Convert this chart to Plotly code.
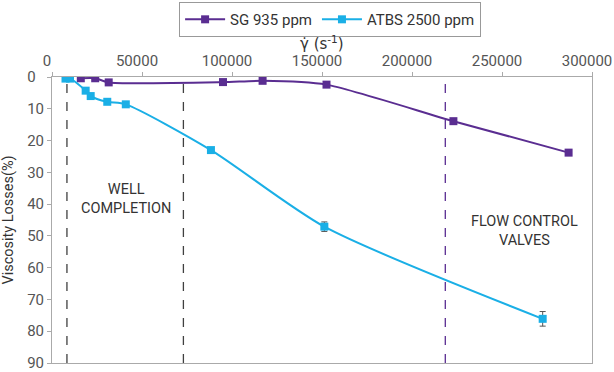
import plotly.graph_objects as go

# Data
sg_x = [16000, 24000, 31500, 95000, 117000, 152500, 223000, 287000]
sg_y = [0.4, 0.4, 1.7, 1.6, 1.2, 2.4, 13.9, 23.8]

atbs_x = [7500, 10000, 18700, 21500, 30700, 41000, 88300, 151300, 272600]
atbs_y = [0.5, 0.5, 4.3, 6.0, 7.8, 8.6, 23.0, 47.1, 76.1]
atbs_err = [0, 0, 0, 0, 0, 0, 0, 1.5, 2.3]

zone_x = [8300, 73000, 218500]
zone_colors = ["#404040", "#404040", "#5a2d91"]

x_ticks = [0, 50000, 100000, 150000, 200000, 250000, 300000]
y_ticks = [0, 10, 20, 30, 40, 50, 60, 70, 80, 90]
y_ticktext = ["0\u2007"] + [str(v) for v in y_ticks[1:]]

PURPLE = "#5a2d91"
CYAN = "#1aafe6"
FONT = "Roboto"

fig = go.Figure()
fig.add_trace(go.Scatter(
    x=sg_x, y=sg_y, name="SG 935 ppm", mode="lines+markers",
    line=dict(color=PURPLE, width=2, shape="spline", smoothing=0.6),
    marker=dict(symbol="square", size=8, color=PURPLE),
))
fig.add_trace(go.Scatter(
    x=atbs_x, y=atbs_y, name="ATBS 2500 ppm", mode="lines+markers",
    line=dict(color=CYAN, width=2, shape="spline", smoothing=0.7),
    marker=dict(symbol="square", size=8, color=CYAN),
    error_y=dict(type="data", array=atbs_err, color="#555555", thickness=1, width=3),
))

for xv, c in zip(zone_x, zone_colors):
    fig.add_shape(type="line", xref="x", yref="paper", x0=xv, x1=xv, y0=0, y1=1,
                  line=dict(color=c, width=1.3, dash="dash"), layer="below")

fig.add_annotation(x=41000, y=38.5, xref="x", yref="y", text="WELL<br>COMPLETION",
                   showarrow=False, font=dict(family=FONT, size=14.5, color="#333333"))
fig.add_annotation(x=262500, y=48.5, xref="x", yref="y", text="FLOW CONTROL<br>VALVES",
                   showarrow=False, font=dict(family=FONT, size=14.5, color="#333333"))
fig.add_annotation(x=0.5, y=1, xref="paper", yref="paper", yshift=34, yanchor="middle",
                   text="γ̇ (s<sup>-1</sup>)", showarrow=False,
                   font=dict(family="DejaVu Sans", size=15, color="#333333"))

fig.update_layout(
    width=614, height=372,
    margin=dict(l=52, r=22, t=77, b=9, autoexpand=False),
    paper_bgcolor="white", plot_bgcolor="white",
    font=dict(family=FONT, size=15, color="#555555"),
    showlegend=True,
    legend=dict(orientation="h", x=0.515, xanchor="center", y=1.262, yanchor="top",
                bordercolor="#999999", borderwidth=1, font=dict(size=15, color="#333333"),
                itemwidth=40),
    xaxis=dict(side="top", range=[0, 300000], tickvals=x_ticks,
               ticktext=[str(v) for v in x_ticks], showgrid=False,
               showline=True, linecolor="#aaaaaa", mirror=True,
               ticks="outside", ticklen=4, tickcolor="#aaaaaa", zeroline=False,
               ticklabeloverflow="allow", ticklabelshift=-5),
    yaxis=dict(range=[90, 0], tickvals=y_ticks, ticktext=y_ticktext, showgrid=False,
               showline=True, linecolor="#aaaaaa", mirror=True,
               ticks="outside", ticklen=4, tickcolor="#aaaaaa", zeroline=False,
               ticklabeloverflow="allow",
               title=dict(text="Viscosity Losses(%)", standoff=10,
                          font=dict(size=14.5, color="#333333"))),
)

fig.write_html("out.html", config={"displayModeBar": False},
               post_script="document.body.style.margin='0';")
